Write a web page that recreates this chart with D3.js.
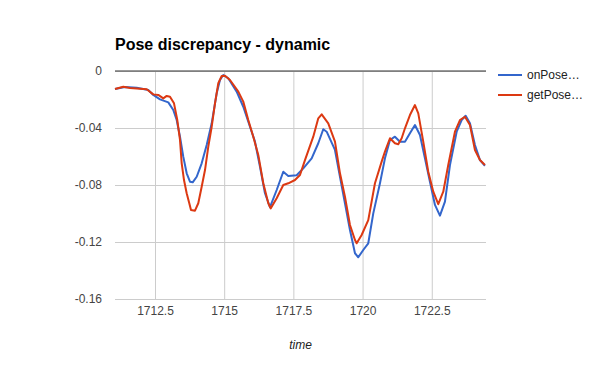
<!DOCTYPE html>
<html>
<head>
<meta charset="utf-8">
<script src="https://cdn.jsdelivr.net/npm/d3@7"></script>
<style>
  html, body { margin: 0; padding: 0; background: #fff; }
  svg { display: block; font-family: Arial, "Liberation Sans", sans-serif; }
</style>
</head>
<body>
<svg id="chart" width="600" height="371"></svg>
<script>
const chartTitle = "Pose discrepancy - dynamic";
const xAxisTitle = "time";
const seriesNames = ["onPose…", "getPose…"];
const xTicks = [1712.5, 1715, 1717.5, 1720, 1722.5];
const yTicks = [0, -0.04, -0.08, -0.12, -0.16];
const xDomain = [1711.055, 1724.46];
const yDomain = [-0.16, 0];

const onPoseTime = [1711.055, 1711.416, 1711.839, 1712.258, 1712.439, 1712.681, 1712.981, 1713.161, 1713.284, 1713.403, 1713.522, 1713.645, 1713.764, 1713.862, 1714.007, 1714.187, 1714.368, 1714.549, 1714.729, 1714.848, 1714.968, 1715.148, 1715.451, 1715.690, 1715.932, 1716.113, 1716.294, 1716.474, 1716.655, 1716.897, 1717.135, 1717.316, 1717.619, 1717.858, 1718.161, 1718.400, 1718.580, 1718.703, 1719.003, 1719.184, 1719.364, 1719.545, 1719.726, 1719.845, 1720.025, 1720.206, 1720.387, 1720.629, 1720.809, 1720.990, 1721.170, 1721.351, 1721.532, 1721.712, 1721.893, 1722.074, 1722.254, 1722.435, 1722.616, 1722.796, 1722.977, 1723.158, 1723.400, 1723.580, 1723.725, 1723.880, 1724.061, 1724.242, 1724.422];
const onPoseValue = [-0.0126, -0.0112, -0.0117, -0.0133, -0.0168, -0.0199, -0.0220, -0.0274, -0.0344, -0.0461, -0.0601, -0.0718, -0.0777, -0.0781, -0.0742, -0.0648, -0.0519, -0.0367, -0.0156, -0.0063, -0.0028, -0.0051, -0.0145, -0.0251, -0.0391, -0.0496, -0.0672, -0.0858, -0.0956, -0.0835, -0.0707, -0.0737, -0.0732, -0.0683, -0.0613, -0.0507, -0.0409, -0.0426, -0.0554, -0.0742, -0.0928, -0.1116, -0.1279, -0.1307, -0.1256, -0.1209, -0.0999, -0.0788, -0.0613, -0.0484, -0.0461, -0.0496, -0.0496, -0.0437, -0.0379, -0.0449, -0.0613, -0.0777, -0.0940, -0.1015, -0.0917, -0.0660, -0.0426, -0.0344, -0.0314, -0.0367, -0.0519, -0.0625, -0.0665];

const getPoseTime = [1711.055, 1711.355, 1711.597, 1712.200, 1712.439, 1712.619, 1712.800, 1712.923, 1713.042, 1713.187, 1713.306, 1713.403, 1713.465, 1713.548, 1713.645, 1713.739, 1713.801, 1713.945, 1714.064, 1714.187, 1714.307, 1714.426, 1714.549, 1714.668, 1714.787, 1714.910, 1715.029, 1715.210, 1715.510, 1715.690, 1715.871, 1716.052, 1716.232, 1716.413, 1716.594, 1716.680, 1716.897, 1717.135, 1717.316, 1717.558, 1717.739, 1717.919, 1718.219, 1718.400, 1718.523, 1718.761, 1719.003, 1719.184, 1719.364, 1719.545, 1719.726, 1719.787, 1719.967, 1720.206, 1720.448, 1720.690, 1720.809, 1720.990, 1721.170, 1721.290, 1721.413, 1721.532, 1721.712, 1721.893, 1722.013, 1722.193, 1722.374, 1722.555, 1722.735, 1722.916, 1723.096, 1723.338, 1723.519, 1723.700, 1723.880, 1724.061, 1724.242, 1724.422];
const getPoseValue = [-0.0126, -0.0110, -0.0119, -0.0128, -0.0164, -0.0168, -0.0192, -0.0175, -0.0180, -0.0227, -0.0344, -0.0484, -0.0648, -0.0765, -0.0858, -0.0928, -0.0975, -0.0980, -0.0928, -0.0812, -0.0695, -0.0531, -0.0391, -0.0227, -0.0086, -0.0035, -0.0033, -0.0063, -0.0145, -0.0215, -0.0344, -0.0461, -0.0589, -0.0788, -0.0928, -0.0964, -0.0893, -0.0800, -0.0788, -0.0765, -0.0730, -0.0625, -0.0461, -0.0332, -0.0304, -0.0367, -0.0496, -0.0718, -0.0882, -0.1081, -0.1186, -0.1209, -0.1151, -0.1046, -0.0788, -0.0636, -0.0566, -0.0472, -0.0507, -0.0514, -0.0472, -0.0402, -0.0309, -0.0239, -0.0297, -0.0496, -0.0707, -0.0847, -0.0935, -0.0847, -0.0660, -0.0426, -0.0344, -0.0321, -0.0379, -0.0554, -0.0625, -0.0660];

const colors = ["#3366cc", "#dc3912"];

(function () {
const svg = d3.select("#chart");
const pL = 115, pR = 486, pT = 71, pB = 299;

const x = d3.scaleLinear().domain(xDomain).range([pL, pR]);
const y = d3.scaleLinear().domain(yDomain).range([pB, pT]);

// Title
svg.append("text")
  .attr("x", 115).attr("y", 50)
  .attr("font-size", 16).attr("font-weight", "bold").attr("fill", "#000")
  .text(chartTitle);

// Horizontal gridlines + y labels
const yAxis = d3.axisLeft(y).tickValues(yTicks).tickSize(-(pR - pL)).tickPadding(13)
  .tickFormat(d => d === 0 ? "0" : d.toFixed(2));
const gy = svg.append("g").attr("transform", `translate(${pL},0)`).call(yAxis);
gy.select(".domain").remove();
gy.selectAll(".tick line").attr("stroke", "#cccccc").attr("stroke-width", 1);
gy.selectAll(".tick text").attr("font-size", 12).attr("fill", "#444").attr("font-family", "Arial, 'Liberation Sans', sans-serif");

// Vertical gridlines + x labels
const xAxis = d3.axisBottom(x).tickValues(xTicks).tickSize(-(pB - pT)).tickPadding(7)
  .tickFormat(d => String(d));
const gx = svg.append("g").attr("transform", `translate(0,${pB})`).call(xAxis);
gx.select(".domain").remove();
gx.selectAll(".tick line").attr("stroke", "#cccccc").attr("stroke-width", 1);
gx.selectAll(".tick text").attr("font-size", 12).attr("fill", "#444").attr("font-family", "Arial, 'Liberation Sans', sans-serif");

// Zero baseline
svg.append("line")
  .attr("x1", pL).attr("x2", pR)
  .attr("y1", y(0)).attr("y2", y(0))
  .attr("stroke", "#333").attr("stroke-width", 1);

// Axis title
svg.append("text")
  .attr("x", (pL + pR) / 2).attr("y", 349)
  .attr("text-anchor", "middle")
  .attr("font-size", 12).attr("font-style", "italic").attr("fill", "#222")
  .text(xAxisTitle);

// Lines
const line = d3.line().x(d => x(d[0])).y(d => y(d[1]));
const series = [
  d3.zip(onPoseTime, onPoseValue),
  d3.zip(getPoseTime, getPoseValue)
];
series.forEach((s, i) => {
  svg.append("path")
    .datum(s)
    .attr("fill", "none")
    .attr("stroke", colors[i])
    .attr("stroke-width", 2)
    .attr("stroke-linejoin", "round")
    .attr("d", line);
});

// Legend
seriesNames.forEach((name, i) => {
  const ly = 75 + i * 20;
  svg.append("line")
    .attr("x1", 498).attr("x2", 522)
    .attr("y1", ly).attr("y2", ly)
    .attr("stroke", colors[i]).attr("stroke-width", 2);
  svg.append("text")
    .attr("x", 527).attr("y", ly + 4)
    .attr("font-size", 12).attr("fill", "#222")
    .text(name);
});
})();
</script>
</body>
</html>
